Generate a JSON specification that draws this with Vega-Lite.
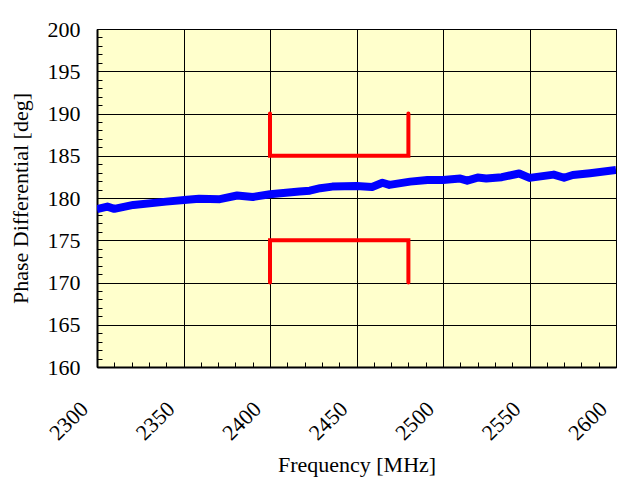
{
  "$schema": "https://vega.github.io/schema/vega-lite/v6.json",
  "width": 519,
  "height": 338,
  "autosize": {"type": "none"},
  "padding": {"left": 97, "top": 29, "right": 1, "bottom": 113},
  "background": "white",
  "config": {
    "view": {"fill": "#FFFFCC", "stroke": "black", "strokeWidth": 1},
    "font": "Liberation Serif",
    "axis": {
      "labelFont": "Liberation Serif",
      "titleFont": "Liberation Serif",
      "labelFontSize": 22,
      "titleFontSize": 22,
      "titleFontWeight": "normal",
      "labelColor": "black",
      "titleColor": "black",
      "domainColor": "black",
      "tickColor": "black",
      "gridColor": "black",
      "gridWidth": 1
    }
  },
  "datasets": {
    "measured": [
      {"f": 2300, "p": 178.67},
      {"f": 2306, "p": 178.98},
      {"f": 2310, "p": 178.72},
      {"f": 2321, "p": 179.18},
      {"f": 2340, "p": 179.57},
      {"f": 2352, "p": 179.78},
      {"f": 2359, "p": 179.9},
      {"f": 2371, "p": 179.86},
      {"f": 2381, "p": 180.3},
      {"f": 2390, "p": 180.12},
      {"f": 2400, "p": 180.45},
      {"f": 2417, "p": 180.76},
      {"f": 2423, "p": 180.86},
      {"f": 2429, "p": 181.16},
      {"f": 2436, "p": 181.35},
      {"f": 2450, "p": 181.43},
      {"f": 2459, "p": 181.3},
      {"f": 2465, "p": 181.8},
      {"f": 2469, "p": 181.55},
      {"f": 2481, "p": 181.94},
      {"f": 2491, "p": 182.14},
      {"f": 2500, "p": 182.14},
      {"f": 2510, "p": 182.3},
      {"f": 2514, "p": 182.05},
      {"f": 2520, "p": 182.42},
      {"f": 2525, "p": 182.3},
      {"f": 2534, "p": 182.46},
      {"f": 2544, "p": 182.9},
      {"f": 2550, "p": 182.38},
      {"f": 2564, "p": 182.77},
      {"f": 2570, "p": 182.4},
      {"f": 2575, "p": 182.72},
      {"f": 2585, "p": 182.94},
      {"f": 2600, "p": 183.33}
    ],
    "limits": [
      {"s": "upper", "i": 1, "f": 2400, "p": 190},
      {"s": "upper", "i": 2, "f": 2400, "p": 185},
      {"s": "upper", "i": 3, "f": 2480, "p": 185},
      {"s": "upper", "i": 4, "f": 2480, "p": 190},
      {"s": "lower", "i": 1, "f": 2400, "p": 170},
      {"s": "lower", "i": 2, "f": 2400, "p": 175},
      {"s": "lower", "i": 3, "f": 2480, "p": 175},
      {"s": "lower", "i": 4, "f": 2480, "p": 170}
    ]
  },
  "encoding": {
    "x": {
      "field": "f",
      "type": "quantitative",
      "scale": {"domain": [2300, 2600], "nice": false, "zero": false},
      "axis": {
        "title": "Frequency [MHz]",
        "values": [2300,2310,2320,2330,2340,2350,2360,2370,2380,2390,2400,2410,2420,2430,2440,2450,2460,2470,2480,2490,2500,2510,2520,2530,2540,2550,2560,2570,2580,2590,2600],
        "labelExpr": "datum.value % 50 === 0 ? datum.label : ''",
        "format": "d",
        "gridOpacity": {"condition": {"test": "datum.value % 50 === 0", "value": 1}, "value": 0},
        "tickSize": -5,
        "domainWidth": 2,
        "labelAngle": -45,
        "labelAlign": "right",
        "labelBaseline": "middle",
        "labelPadding": 43,
        "labelOffset": -13,
        "labelOverlap": false,
        "labelFlush": false,
        "titlePadding": 11
      }
    },
    "y": {
      "field": "p",
      "type": "quantitative",
      "scale": {"domain": [160, 200], "nice": false, "zero": false},
      "axis": {
        "title": "Phase Differential [deg]",
        "values": [160,161,162,163,164,165,166,167,168,169,170,171,172,173,174,175,176,177,178,179,180,181,182,183,184,185,186,187,188,189,190,191,192,193,194,195,196,197,198,199,200],
        "labelExpr": "datum.value % 5 === 0 ? datum.label : ''",
        "gridOpacity": {"condition": {"test": "datum.value % 5 === 0", "value": 1}, "value": 0},
        "tickSize": -5,
        "domainWidth": 2,
        "labelPadding": 22,
        "labelOverlap": false,
        "labelFlush": false,
        "titlePadding": 15
      }
    }
  },
  "layer": [
    {
      "data": {"name": "limits"},
      "mark": {"type": "line", "color": "#FF0000", "strokeWidth": 4, "strokeCap": "round", "strokeJoin": "miter"},
      "encoding": {
        "detail": {"field": "s"},
        "order": {"field": "i", "type": "quantitative"}
      }
    },
    {
      "data": {"name": "measured"},
      "mark": {"type": "line", "color": "#0000FF", "strokeWidth": 8, "strokeCap": "butt", "strokeJoin": "round", "clip": true},
      "encoding": {}
    }
  ]
}
